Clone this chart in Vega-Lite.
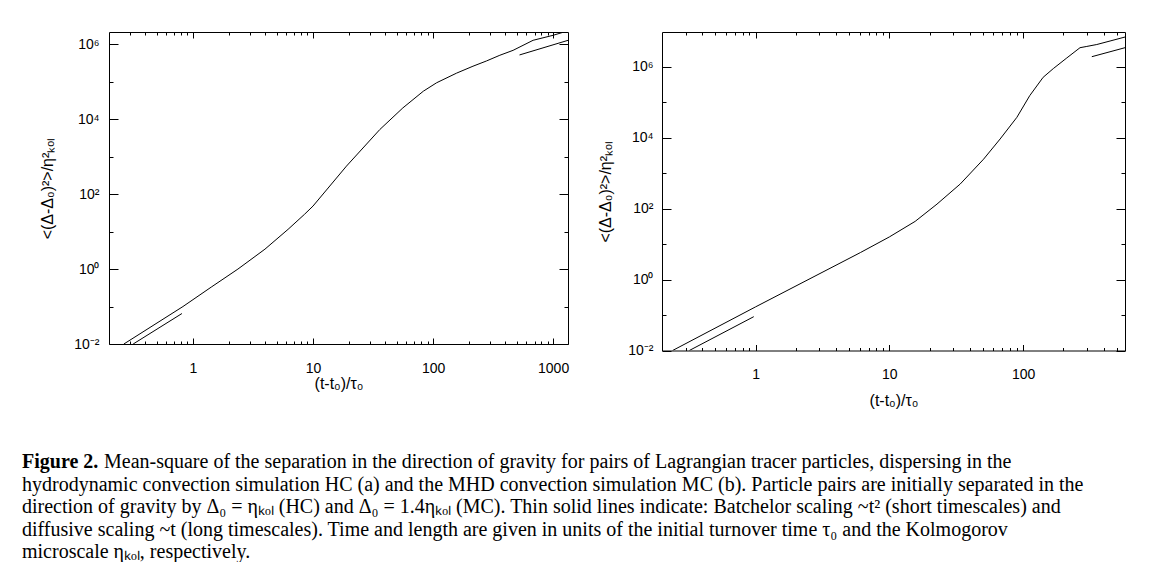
{
  "$schema": "https://vega.github.io/schema/vega-lite/v6.json",
  "background": "white",
  "padding": {"left": 22, "top": 31, "right": 0, "bottom": 0},
  "datasets": {
    "a_main": [
      {"t": 0.266, "r": 0.01}, {"t": 0.826, "r": 0.1}, {"t": 1.42, "r": 0.33}, {"t": 2.37, "r": 1.0},
      {"t": 3.98, "r": 3.4}, {"t": 6.2, "r": 11.5}, {"t": 8.5, "r": 29}, {"t": 10, "r": 48},
      {"t": 19, "r": 560}, {"t": 36, "r": 5300}, {"t": 56, "r": 20000}, {"t": 83, "r": 56000},
      {"t": 107, "r": 94000}, {"t": 157, "r": 170000}, {"t": 215, "r": 260000}, {"t": 279, "r": 360000},
      {"t": 360, "r": 510000}, {"t": 464, "r": 690000}, {"t": 681, "r": 1280000}, {"t": 1000, "r": 1740000},
      {"t": 1334, "r": 2300000}
    ],
    "a_fit": [
      {"seg": "short", "t": 0.318, "r": 0.01}, {"seg": "short", "t": 0.81, "r": 0.065},
      {"seg": "long", "t": 525, "r": 520000}, {"seg": "long", "t": 1334, "r": 1280000}
    ],
    "b_main": [
      {"t": 0.24, "r": 0.01}, {"t": 1, "r": 0.17}, {"t": 6.08, "r": 5.8}, {"t": 10, "r": 16},
      {"t": 15.6, "r": 44}, {"t": 22.7, "r": 135}, {"t": 33.9, "r": 500}, {"t": 50.6, "r": 2500},
      {"t": 67.3, "r": 9300}, {"t": 89.8, "r": 38000}, {"t": 112, "r": 155000}, {"t": 141, "r": 510000},
      {"t": 168, "r": 900000}, {"t": 212, "r": 1800000}, {"t": 266, "r": 3500000}, {"t": 299, "r": 3800000},
      {"t": 355, "r": 4300000}, {"t": 446, "r": 5400000}, {"t": 577, "r": 7000000}
    ],
    "b_fit": [
      {"seg": "short", "t": 0.32, "r": 0.01}, {"seg": "short", "t": 0.97, "r": 0.09},
      {"seg": "long", "t": 326, "r": 1950000}, {"seg": "long", "t": 577, "r": 3500000}
    ],
    "caption": [
      {"line": 1, "text": "Mean-square of the separation in the direction of gravity for pairs of Lagrangian tracer particles, dispersing in the"},
      {"line": 2, "text": "hydrodynamic convection simulation HC (a) and the MHD convection simulation MC (b). Particle pairs are initially separated in the"},
      {"line": 3, "text": "direction of gravity by Δ₀ = ηₖₒₗ (HC) and Δ₀ = 1.4ηₖₒₗ (MC). Thin solid lines indicate: Batchelor scaling ~t² (short timescales) and"},
      {"line": 4, "text": "diffusive scaling ~t (long timescales). Time and length are given in units of the initial turnover time τ₀ and the Kolmogorov"},
      {"line": 5, "text": "microscale ηₖₒₗ, respectively."}
    ]
  },
  "config": {
    "view": {"stroke": "black", "strokeWidth": 1},
    "axis": {
      "grid": false, "domain": false, "tickColor": "black", "tickWidth": 1,
      "labelFont": "Liberation Sans", "labelFontSize": 14, "labelColor": "black",
      "titleFont": "Liberation Sans", "titleFontSize": 16, "titleFontWeight": "normal", "titleColor": "black"
    }
  },
  "vconcat": [
    {
      "hconcat": [
        {
          "width": 459, "height": 312,
          "layer": [
            {
              "data": {"name": "a_main"},
              "mark": {"type": "line", "color": "black", "strokeWidth": 1, "clip": true},
              "encoding": {
                "x": {"field": "t", "type": "quantitative",
                  "scale": {"type": "log", "domain": [0.2, 1330], "nice": false},
                  "axis": {"orient": "bottom", "title": "(t-t₀)/τ₀", "format": "d",
                    "values": [0.3,0.4,0.5,0.6,0.7,0.8,0.9,1,2,3,4,5,6,7,8,9,10,20,30,40,50,60,70,80,90,100,200,300,400,500,600,700,800,900,1000],
                    "tickSize": {"condition": {"test": "indexof([1,10,100,1000], datum.value) >= 0", "value": -6}, "value": -3},
                    "labelExpr": "indexof([1,10,100,1000], datum.value) >= 0 ? datum.label : ''",
                    "labelPadding": 23, "titlePadding": 0}},
                "y": {"field": "r", "type": "quantitative",
                  "scale": {"type": "log", "domain": [0.01, 2130000], "nice": false},
                  "axis": {"orient": "left", "title": "<(Δ-Δ₀)²>/η²ₖₒₗ",
                    "values": [0.01,0.1,1,10,100,1000,10000,100000,1000000],
                    "tickSize": {"condition": {"test": "indexof([0.01,1,100,10000,1000000], datum.value) >= 0", "value": -9}, "value": -4},
                    "labelExpr": "datum.value == 0.01 ? '10⁻²' : datum.value == 1 ? '10⁰' : datum.value == 100 ? '10²' : datum.value == 10000 ? '10⁴' : datum.value == 1000000 ? '10⁶' : ''",
                    "labelPadding": 19, "titlePadding": 18}}
              }
            },
            {
              "data": {"name": "a_fit"},
              "mark": {"type": "line", "color": "black", "strokeWidth": 1, "clip": true},
              "encoding": {
                "detail": {"field": "seg"},
                "x": {"field": "t", "type": "quantitative",
                  "scale": {"type": "log", "domain": [0.2, 1330], "nice": false},
                  "axis": {"orient": "top", "title": null, "labels": false,
                    "values": [0.3,0.4,0.5,0.6,0.7,0.8,0.9,1,2,3,4,5,6,7,8,9,10,20,30,40,50,60,70,80,90,100,200,300,400,500,600,700,800,900,1000],
                    "tickSize": {"condition": {"test": "indexof([1,10,100,1000], datum.value) >= 0", "value": -6}, "value": -3}}},
                "y": {"field": "r", "type": "quantitative",
                  "scale": {"type": "log", "domain": [0.01, 2130000], "nice": false},
                  "axis": {"orient": "right", "title": null, "labels": false,
                    "values": [0.01,0.1,1,10,100,1000,10000,100000,1000000],
                    "tickSize": {"condition": {"test": "indexof([0.01,1,100,10000,1000000], datum.value) >= 0", "value": -9}, "value": -4}}}
              }
            },
            {
              "mark": {"type": "text", "text": "(a)", "align": "left", "baseline": "middle", "font": "Liberation Sans", "fontSize": 15, "color": "black"},
              "encoding": {
                "x": {"datum": 0.28, "type": "quantitative", "scale": {"type": "log", "domain": [0.2, 1330], "nice": false}, "axis": null},
                "y": {"datum": 460000, "type": "quantitative", "scale": {"type": "log", "domain": [0.01, 2130000], "nice": false}, "axis": null}
              }
            }
          ],
          "resolve": {"axis": {"x": "independent", "y": "independent"}}
        },
        {
          "width": 463, "height": 318.5,
          "layer": [
            {
              "data": {"name": "b_main"},
              "mark": {"type": "line", "color": "black", "strokeWidth": 1, "clip": true},
              "encoding": {
                "x": {"field": "t", "type": "quantitative",
                  "scale": {"type": "log", "domain": [0.2, 577], "nice": false},
                  "axis": {"orient": "bottom", "title": "(t-t₀)/τ₀", "format": "d",
                    "values": [0.3,0.4,0.5,0.6,0.7,0.8,0.9,1,2,3,4,5,6,7,8,9,10,20,30,40,50,60,70,80,90,100,200,300,400,500],
                    "tickSize": {"condition": {"test": "indexof([1,10,100,1000], datum.value) >= 0", "value": -6}, "value": -3},
                    "labelExpr": "indexof([1,10,100,1000], datum.value) >= 0 ? datum.label : ''",
                    "labelPadding": 23, "titlePadding": 11}},
                "y": {"field": "r", "type": "quantitative",
                  "scale": {"type": "log", "domain": [0.01, 9700000], "nice": false},
                  "axis": {"orient": "left", "title": "<(Δ-Δ₀)²>/η²ₖₒₗ",
                    "values": [0.01,0.1,1,10,100,1000,10000,100000,1000000],
                    "tickSize": {"condition": {"test": "indexof([0.01,1,100,10000,1000000], datum.value) >= 0", "value": -9}, "value": -4},
                    "labelExpr": "datum.value == 0.01 ? '10⁻²' : datum.value == 1 ? '10⁰' : datum.value == 100 ? '10²' : datum.value == 10000 ? '10⁴' : datum.value == 1000000 ? '10⁶' : ''",
                    "labelPadding": 18, "titlePadding": 14}}
              }
            },
            {
              "data": {"name": "b_fit"},
              "mark": {"type": "line", "color": "black", "strokeWidth": 1, "clip": true},
              "encoding": {
                "detail": {"field": "seg"},
                "x": {"field": "t", "type": "quantitative",
                  "scale": {"type": "log", "domain": [0.2, 577], "nice": false},
                  "axis": {"orient": "top", "title": null, "labels": false,
                    "values": [0.3,0.4,0.5,0.6,0.7,0.8,0.9,1,2,3,4,5,6,7,8,9,10,20,30,40,50,60,70,80,90,100,200,300,400,500],
                    "tickSize": {"condition": {"test": "indexof([1,10,100,1000], datum.value) >= 0", "value": -6}, "value": -3}}},
                "y": {"field": "r", "type": "quantitative",
                  "scale": {"type": "log", "domain": [0.01, 9700000], "nice": false},
                  "axis": {"orient": "right", "title": null, "labels": false,
                    "values": [0.01,0.1,1,10,100,1000,10000,100000,1000000],
                    "tickSize": {"condition": {"test": "indexof([0.01,1,100,10000,1000000], datum.value) >= 0", "value": -9}, "value": -4}}}
              }
            },
            {
              "mark": {"type": "text", "text": "(b)", "align": "left", "baseline": "middle", "font": "Liberation Sans", "fontSize": 15, "color": "black"},
              "encoding": {
                "x": {"datum": 0.28, "type": "quantitative", "scale": {"type": "log", "domain": [0.2, 577], "nice": false}, "axis": null},
                "y": {"datum": 1300000, "type": "quantitative", "scale": {"type": "log", "domain": [0.01, 9700000], "nice": false}, "axis": null}
              }
            }
          ],
          "resolve": {"axis": {"x": "independent", "y": "independent"}}
        }
      ],
      "spacing": 27
    },
    {
      "width": 1140, "height": 90,
      "view": {"stroke": null},
      "data": {"name": "caption"},
      "encoding": {
        "x": {"datum": -87, "type": "quantitative", "scale": {"domain": [0, 1140]}, "axis": null},
        "y": {"field": "line", "type": "ordinal", "scale": {"padding": 0}, "axis": null}
      },
      "layer": [
        {
          "transform": [{"filter": "datum.line == 1"}],
          "mark": {"type": "text", "text": "Figure 2.", "align": "left", "baseline": "middle", "font": "Liberation Serif", "fontSize": 20, "fontWeight": "bold", "color": "black"}
        },
        {
          "transform": [{"filter": "datum.line == 1"}],
          "mark": {"type": "text", "align": "left", "baseline": "middle", "dx": 82, "font": "Liberation Serif", "fontSize": 20, "color": "black"},
          "encoding": {"text": {"field": "text"}}
        },
        {
          "transform": [{"filter": "datum.line != 1"}],
          "mark": {"type": "text", "align": "left", "baseline": "middle", "font": "Liberation Serif", "fontSize": 20, "color": "black"},
          "encoding": {"text": {"field": "text"}}
        }
      ]
    }
  ],
  "spacing": 43
}
